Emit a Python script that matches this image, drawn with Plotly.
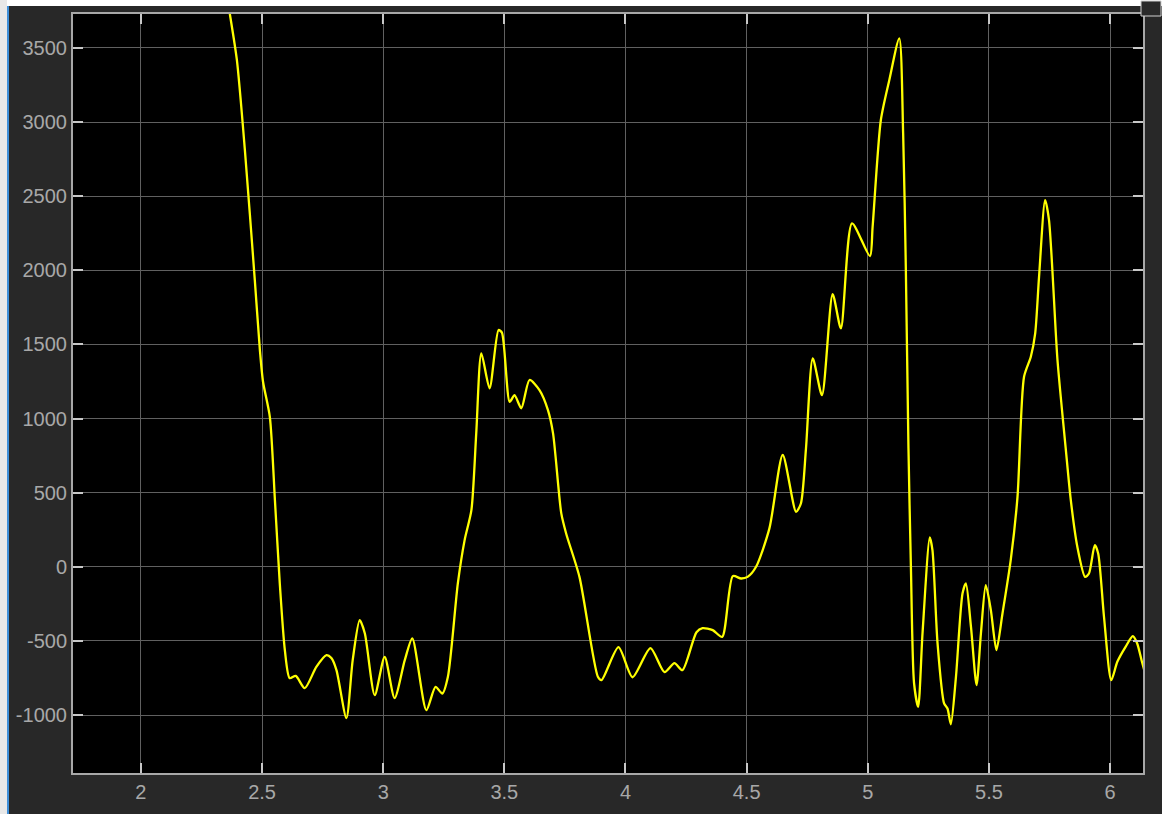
import plotly.graph_objects as go

# Time (s) and signal values
t = [2.355, 2.367, 2.396, 2.429, 2.470, 2.491, 2.504, 2.532, 2.553, 2.573, 2.594, 2.614,
     2.639, 2.676, 2.724, 2.766, 2.786, 2.807, 2.848, 2.874, 2.903, 2.924, 2.965, 3.006,
     3.047, 3.089, 3.120, 3.178, 3.216, 3.244, 3.267, 3.308, 3.336, 3.364, 3.384, 3.405,
     3.439, 3.476, 3.490, 3.522, 3.542, 3.570, 3.604, 3.645, 3.680, 3.701, 3.735, 3.755,
     3.810, 3.886, 3.901, 3.971, 4.029, 4.103, 4.161, 4.202, 4.235, 4.293, 4.318, 4.360,
     4.399, 4.443, 4.477, 4.504, 4.539, 4.594, 4.649, 4.704, 4.724, 4.745, 4.773, 4.811,
     4.855, 4.889, 4.935, 5.009, 5.020, 5.054, 5.089, 5.130, 5.146, 5.157, 5.168, 5.178,
     5.191, 5.208, 5.226, 5.256, 5.267, 5.288, 5.315, 5.329, 5.343, 5.364, 5.391, 5.405,
     5.426, 5.449, 5.467, 5.487, 5.508, 5.531, 5.556, 5.590, 5.618, 5.645, 5.673, 5.691,
     5.707, 5.732, 5.748, 5.783, 5.817, 5.838, 5.865, 5.897, 5.913, 5.937, 5.951, 5.975,
     6.005, 6.030, 6.064, 6.094, 6.112, 6.130, 6.145]
signal = [3850, 3729, 3419, 2812, 1934, 1462, 1248, 1012, 450, -110, -562, -751,
          -736, -819, -675, -596, -616, -697, -1021, -630, -360, -448, -866, -607,
          -886, -630, -483, -967, -810, -855, -742, -112, 180, 382, 902, 1440,
          1204, 1597, 1580, 1113, 1158, 1069, 1260, 1192, 1057, 900, 360, 225,
          -68, -742, -765, -542, -745, -549, -711, -650, -697, -441, -414, -427,
          -473, -63, -79, -68, 0, 259, 754, 371, 427, 799, 1406, 1158,
          1840, 1609, 2317, 2096, 2294, 3014, 3284, 3565, 2924, 2024, 799, 0,
          -785, -945, -448, 198, 112, -517, -922, -956, -1062, -742, -180, -112,
          -405, -798, -450, -124, -292, -562, -315, 45, 472, 1282, 1417, 1575,
          1957, 2474, 2339, 1395, 799, 450, 135, -68, -45, 146, 90, -337,
          -765, -641, -540, -468, -517, -630, -720]

x_ticks = [2, 2.5, 3, 3.5, 4, 4.5, 5, 5.5, 6]
x_labels = ["2", "2.5", "3", "3.5", "4", "4.5", "5", "5.5", "6"]
y_ticks = [-1000, -500, 0, 500, 1000, 1500, 2000, 2500, 3000, 3500]
y_labels = ["-1000", "-500", "0", "500", "1000", "1500", "2000", "2500", "3000", "3500"]

fig = go.Figure()
fig.add_trace(go.Scatter(x=t, y=signal, mode="lines",
                         line=dict(color="#ffff00", width=2.3, shape="spline", smoothing=0.7),
                         showlegend=False, hoverinfo="skip"))

axis_common = dict(
    showgrid=True, gridcolor="#606060", gridwidth=1,
    zeroline=False,
    showline=True, linecolor="#a8a8a8", linewidth=2, mirror="ticks",
    ticks="inside", ticklen=10, tickcolor="#c8c8c8", tickwidth=2,
    tickfont=dict(family="Liberation Sans, Arial, sans-serif", size=20, color="#a8a8a8"),
)

fig.update_xaxes(range=[1.7196, 6.136], tickvals=x_ticks, ticktext=x_labels, **axis_common)
fig.update_yaxes(range=[-1391, 3729], tickvals=y_ticks, ticktext=y_labels, **axis_common)

W, H = 1162, 814
L, R, T, B = 73, 19, 14, 41
pw, ph = W - L - R, H - T - B

def px(x):
    return (x - L) / pw

def py(y):
    return 1 - (y - T) / ph

shapes = [
    # white strips at top and left (window edges)
    dict(type="rect", xref="paper", yref="paper", x0=px(0), x1=px(W), y0=py(0), y1=py(6),
         fillcolor="#ffffff", line=dict(width=0), layer="below"),
    dict(type="rect", xref="paper", yref="paper", x0=px(0), x1=px(7), y0=py(0), y1=py(H),
         fillcolor="#e8e8e8", line=dict(width=0), layer="below"),
    dict(type="line", xref="paper", yref="paper", x0=px(8), x1=px(8), y0=py(6), y1=py(H),
         line=dict(color="#3f8fd8", width=2)),
    # small icon box top-right
    dict(type="rect", xref="paper", yref="paper", x0=px(1141), x1=px(1161), y0=py(1), y1=py(16),
         fillcolor="#2a2a2a", line=dict(color="#d0d0d0", width=1)),
]

fig.update_layout(
    width=W, height=H,
    margin=dict(l=L, r=R, t=T, b=B),
    paper_bgcolor="#282828", plot_bgcolor="#000000",
    shapes=shapes,
)

fig.write_html("out.html",
               config={"displayModeBar": False, "staticPlot": True},
               post_script="document.body.style.margin='0';document.body.style.padding='0';")
